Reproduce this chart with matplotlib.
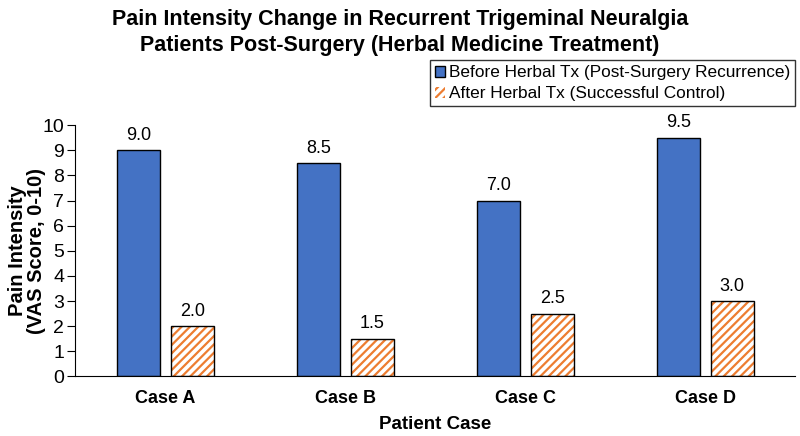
import matplotlib
matplotlib.use("Agg")
import matplotlib.pyplot as plt
import numpy as np
from matplotlib.patches import Patch

plt.rcParams['font.family'] = ['Liberation Sans', 'DejaVu Sans']
plt.rcParams['hatch.linewidth'] = 1.6

cases = ["Case A", "Case B", "Case C", "Case D"]
before = [9.0, 8.5, 7.0, 9.5]
after = [2.0, 1.5, 2.5, 3.0]
yticks = list(range(0, 11))
series_labels = ["Before Herbal Tx (Post-Surgery Recurrence)",
                 "After Herbal Tx (Successful Control)"]

blue = "#4472C4"
orange = "#ED7D31"

fig = plt.figure(figsize=(8, 4.36), dpi=100)
ax = fig.add_axes([0.094, 0.1365, 0.900, 0.5765])

x = np.arange(len(cases))
w = 0.24
off = 0.15

b1 = ax.bar(x - off, before, w, color=blue, edgecolor="black", linewidth=1.0, zorder=2)
ax.bar(x + off, after, w, facecolor="white", edgecolor=orange, linewidth=0,
       hatch="////", zorder=2)
ax.bar(x + off, after, w, fill=False, edgecolor="black", linewidth=1.0, zorder=3)

h2 = Patch(facecolor="white", edgecolor=orange, hatch="////", linewidth=0)

for xi, v in zip(x - off, before):
    ax.text(xi, v + 0.25, f"{v:.1f}", ha="center", va="bottom", fontsize=13)
for xi, v in zip(x + off, after):
    ax.text(xi, v + 0.25, f"{v:.1f}", ha="center", va="bottom", fontsize=13)

ax.set_xlim(-0.5, 3.5)
ax.set_ylim(0, 10)
ax.set_yticks(yticks)
ax.set_xticks(x)
ax.set_xticklabels(cases, fontsize=13, fontweight="bold")
ax.tick_params(axis="y", labelsize=14, length=6, pad=2)
ax.tick_params(axis="x", length=0, pad=10)
for s in ["top", "right"]:
    ax.spines[s].set_visible(False)
ax.set_xlabel("Patient Case", fontsize=13.5, fontweight="bold", labelpad=6)
ax.set_ylabel("Pain Intensity\n(VAS Score, 0-10)", fontsize=14.5, fontweight="bold",
              linespacing=1.0)
ax.yaxis.set_label_coords(-0.041, 0.5)

leg = fig.legend([b1, h2], series_labels,
                 loc="upper right", bbox_to_anchor=(0.998, 0.87), fontsize=12.4,
                 frameon=True, fancybox=False, edgecolor="black", borderpad=0.3,
                 labelspacing=0.35, handlelength=0.6, handleheight=0.6, handletextpad=0.2,
                 borderaxespad=0.2)
leg.get_frame().set_linewidth(1.0)

fig.suptitle("Pain Intensity Change in Recurrent Trigeminal Neuralgia\nPatients Post-Surgery (Herbal Medicine Treatment)",
             x=0.5, y=0.98, fontsize=15.5, fontweight="bold", linespacing=1.3)

fig.savefig("out.png", dpi=100, facecolor="white")
